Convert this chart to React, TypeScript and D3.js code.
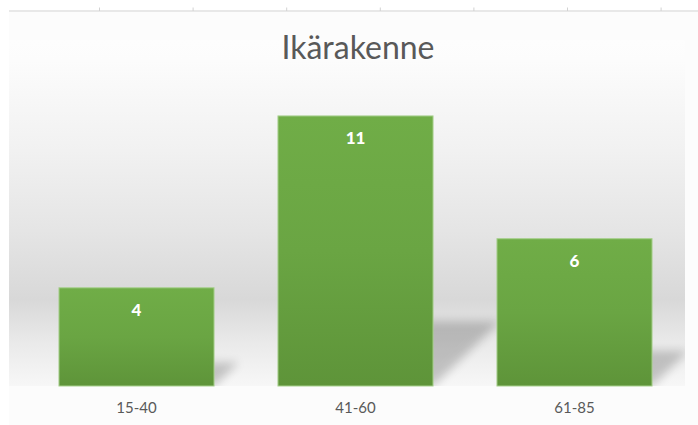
import React from "react";
import * as d3 from "d3";

const categories = ["15-40", "41-60", "61-85"];
const values = [4, 11, 6];
const titleText = "Ikärakenne";

const W = 698;
const H = 425;

export default function App() {
  const baseY = 386;
  const x = d3
    .scaleBand<string>()
    .domain(categories)
    .range([27, 684])
    .paddingInner(0.292)
    .paddingOuter(0.146);
  const y = d3.scaleLinear().domain([0, 12]).range([baseY, baseY - 12 * 24.55]);

  const cellTicks = d3.range(7).map((i) => 99.5 + i * 93.6);
  const font = "Lato, 'Open Sans', sans-serif";

  return (
    <svg
      width={W}
      height={H}
      style={{ position: "absolute", left: 0, top: 0, display: "block" }}
      viewBox={`0 0 ${W} ${H}`}
    >
      <defs>
        <linearGradient id="bg" x1="0" y1="0" x2="0" y2="1">
          <stop offset="0" stopColor="#fdfdfd" />
          <stop offset="0.06" stopColor="#fcfcfc" />
          <stop offset="0.32" stopColor="#f1f1f1" />
          <stop offset="0.55" stopColor="#e5e5e5" />
          <stop offset="0.75" stopColor="#d8d8d8" />
          <stop offset="0.87" stopColor="#e9e9e9" />
          <stop offset="1" stopColor="#f7f7f7" />
        </linearGradient>
        <linearGradient id="barGrad" x1="0" y1="0" x2="0" y2="1">
          <stop offset="0" stopColor="#70ad47" />
          <stop offset="0.5" stopColor="#6aa543" />
          <stop offset="1" stopColor="#5e9439" />
        </linearGradient>
        <filter id="blur" x="-50%" y="-50%" width="200%" height="200%">
          <feGaussianBlur stdDeviation="5" />
        </filter>
        <clipPath id="plotClip">
          <rect x={9} y={20} width={676} height={baseY - 20} />
        </clipPath>
      </defs>

      <rect x={0} y={0} width={W} height={H} fill="#ffffff" />
      <rect x={9} y={12} width={W - 9} height={H - 12} fill="#fcfcfc" />
      <rect x={9} y={40} width={676} height={baseY - 40} fill="url(#bg)" />

      {/* spreadsheet line at top */}
      <line x1={9} x2={W} y1={11} y2={11} stroke="#e0e0e0" strokeWidth={1.5} />
      {cellTicks.map((t, i) => (
        <line key={i} x1={t} x2={t} y1={7.5} y2={11} stroke="#d2d2d2" strokeWidth={1} />
      ))}

      <text
        x={358}
        y={59}
        textAnchor="middle"
        fontFamily={font}
        fontSize={32}
        fill="#595959"
      >
        {titleText}
      </text>

      {/* shadows */}
      <g clipPath="url(#plotClip)">
        {categories.map((c, i) => {
          const x0 = x(c)!;
          const x1 = x0 + x.bandwidth();
          const h = baseY - y(values[i]);
          const dx = 0.25 * h;
          const dy = 0.24 * h;
          const pts = [
            [x0 + 6, baseY],
            [x1, baseY],
            [x1 + dx, baseY - dy],
            [x0 + 6 + dx, baseY - dy],
          ]
            .map((p) => p.join(","))
            .join(" ");
          return (
            <polygon
              key={c}
              points={pts}
              fill="#000000"
              opacity={0.2}
              filter="url(#blur)"
            />
          );
        })}
      </g>

      {/* bars */}
      {categories.map((c, i) => (
        <rect
          key={c}
          x={x(c)!}
          y={y(values[i])}
          width={x.bandwidth()}
          height={baseY - y(values[i])}
          fill="url(#barGrad)"
          stroke="#a6cf8c"
          strokeWidth={1}
        />
      ))}

      {/* value labels */}
      {categories.map((c, i) => (
        <text
          key={c}
          x={x(c)! + x.bandwidth() / 2}
          y={y(values[i]) + 28.5}
          textAnchor="middle"
          fontFamily={font}
          fontWeight={900}
          fontSize={17}
          fill="#ffffff"
        >
          {values[i]}
        </text>
      ))}

      {/* category labels */}
      {categories.map((c) => (
        <text
          key={c}
          x={x(c)! + x.bandwidth() / 2}
          y={412.5}
          textAnchor="middle"
          fontFamily={font}
          fontSize={15}
          fill="#595959"
        >
          {c}
        </text>
      ))}
    </svg>
  );
}
